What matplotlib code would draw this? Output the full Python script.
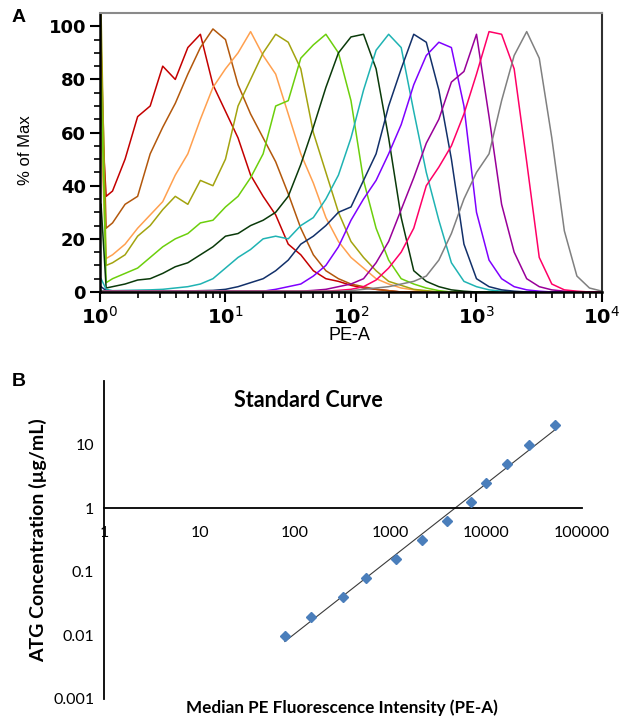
import numpy as np
import matplotlib
matplotlib.use("Agg")
import matplotlib.pyplot as plt
from matplotlib.ticker import FixedLocator, NullFormatter, NullLocator

plt.rcParams['mathtext.fontset'] = 'dejavusans'

# ---- panel A: PE-A histograms (% of max) ----
# bins: spike bin, first bin, then 0.1-decade steps from 10^0.1 to 10^4
pe_bins = np.concatenate([[1.02, 1.12], np.logspace(0.1, 4, 40)])

red = [70, 36, 38, 50, 66, 70, 85, 80, 92, 97, 78, 68, 58, 44, 36, 29, 18, 14, 8, 5, 4, 2.5, 1.5, 1, 0.5,
       0, 0, 0, 0, 0, 0, 0, 0, 0, 0, 0, 0, 0, 0, 0, 0, 0]
brown = [93, 24, 26, 33, 36, 52, 62, 71, 82, 92, 99, 95, 78, 67, 58, 49, 37, 24, 14, 8, 5, 3, 2, 1, 0.5,
         0, 0, 0, 0, 0, 0, 0, 0, 0, 0, 0, 0, 0, 0, 0, 0, 0]
orange = [60, 12.6, 14, 18, 24, 29, 34, 44, 52, 65, 77, 84, 90, 98, 89, 82, 67, 52, 41, 28, 19, 13, 9, 5, 3,
          1.5, 0.8, 0.3, 0, 0, 0, 0, 0, 0, 0, 0, 0, 0, 0, 0, 0, 0]
olive = [105, 10, 11, 14, 21, 25, 31, 36, 33, 42, 40, 50, 70, 80, 90, 97, 94, 84, 60, 45, 30, 19, 13, 8, 4,
         2.5, 1, 0.5, 0, 0, 0, 0, 0, 0, 0, 0, 0, 0, 0, 0, 0, 0]
lgreen = [80, 3.5, 5, 7, 9, 13, 17, 20, 22, 26, 27, 32, 36, 43, 52, 70, 72, 88, 93, 97, 90, 72, 42, 24, 12,
          5, 3, 1.5, 0.5, 0, 0, 0, 0, 0, 0, 0, 0, 0, 0, 0, 0, 0]
dgreen = [33, 1.5, 2, 3, 4.5, 5, 7, 9.5, 11, 14, 17, 21, 22, 25, 27, 30, 36, 48, 62, 77, 90, 96, 97, 84, 58,
          28, 8, 4, 2, 0.8, 0.3, 0, 0, 0, 0, 0, 0, 0, 0, 0, 0, 0]
teal = [5, 1, 0.5, 0.6, 0.7, 0.8, 1, 1.5, 2, 3, 5, 9, 13, 16, 20, 21, 20, 25, 28, 35, 44, 58, 76, 91, 97,
        92, 68, 45, 27, 11, 4, 2, 0.8, 0.3, 0, 0, 0, 0, 0, 0, 0, 0]
navy = [2, 0.5, 0.3, 0.3, 0.3, 0.3, 0.3, 0.3, 0.4, 0.5, 0.6, 1, 2, 3.5, 5, 8, 12, 18, 21, 25, 30, 32, 42, 52, 70,
        84, 97, 94, 76, 50, 18, 5, 2, 0.8, 0.3, 0, 0, 0, 0, 0, 0, 0]
violet = [0.5, 0.3, 0.3, 0.3, 0.3, 0.3, 0.3, 0.3, 0.3, 0.3, 0.3, 0.3, 0.3, 0.3, 0.3, 1, 2, 3, 6, 10, 17, 27, 35, 42, 52,
          63, 78, 89, 94, 92, 70, 30, 12, 5, 2, 0.8, 0.3, 0, 0, 0, 0, 0]
purple = [0.5, 0.3, 0.3, 0.3, 0.3, 0.3, 0.3, 0.3, 0.3, 0.3, 0.3, 0.3, 0.3, 0.3, 0.3, 0.3, 0.3, 0.3, 0.6, 1, 2, 3, 5, 11, 19,
          31, 43, 56, 65, 79, 83, 97, 66, 33, 15, 5, 2, 0.8, 0.3, 0, 0, 0]
pink = [0.5, 0.3, 0.3, 0.3, 0.3, 0.3, 0.3, 0.3, 0.3, 0.3, 0.3, 0.3, 0.3, 0.3, 0.3, 0.3, 0.3, 0.3, 0.3, 0.3, 0.6, 1, 2, 4.5, 9,
        15, 24, 40, 47, 55, 67, 82, 98, 97, 84, 49, 13, 3, 0.8, 0.3, 0, 0]
gray = [0.5, 0.3, 0.3, 0.3, 0.3, 0.3, 0.3, 0.3, 0.3, 0.3, 0.3, 0.3, 0.3, 0.3, 0.3, 0.3, 0.3, 0.3, 0.3, 0.3, 0.3, 0.5, 1, 1.5, 2,
        3, 4, 6, 12, 22, 35, 45, 52, 72, 89, 98, 88, 58, 23, 6, 1.5, 0.3]

hists = [red, brown, orange, olive, lgreen, dgreen, teal, navy, violet, purple, pink, gray]
hist_colors = ['#c40000', '#b3580c', '#ffa04f', '#a3a30f', '#6ccf0c', '#0a3a0a',
               '#1fb3b3', '#12306a', '#7f00ff', '#990099', '#ff0066', '#808080']

# ---- panel B: standard curve ----
median_pe = [78, 146, 314, 546, 1125, 2120, 3870, 6950, 9980, 16300, 28100, 52200]
atg_conc = [0.0098, 0.0195, 0.039, 0.078, 0.156, 0.3125, 0.625, 1.25, 2.5, 5, 10, 20]
x_tick_vals = [1, 10, 100, 1000, 10000, 100000]
x_tick_labels = ['1', '10', '100', '1000', '10000', '100000']
y_tick_vals = [0.001, 0.01, 0.1, 1, 10]
y_tick_labels = ['0.001', '0.01', '0.1', '1', '10']

fig = plt.figure(figsize=(6.28, 7.19), dpi=100)

# panel A
axA = fig.add_axes([0.1592, 0.5939, 0.7994, 0.388])
for vals, c in zip(hists, hist_colors):
    axA.plot(pe_bins, vals, color=c, lw=1.1, clip_on=True)
axA.set_xscale('log')
axA.set_xlim(1, 10000)
axA.set_ylim(0, 105)
axA.set_yticks([0, 20, 40, 60, 80, 100])
axA.yaxis.set_minor_locator(FixedLocator(np.arange(0, 101, 5)))
axA.set_xticks([1, 10, 100, 1000, 10000])
axA.set_xticklabels([r'$\mathbf{10}^{0}$', r'$\mathbf{10}^{1}$', r'$\mathbf{10}^{2}$',
                     r'$\mathbf{10}^{3}$', r'$\mathbf{10}^{4}$'])
axA.xaxis.set_minor_formatter(NullFormatter())
axA.tick_params(axis='both', which='major', direction='out', length=7, width=1.5, color='black')
axA.tick_params(axis='both', which='minor', direction='out', length=4, width=1.2, color='black')
axA.tick_params(axis='y', labelsize=13, pad=3)
axA.tick_params(axis='x', labelsize=14, pad=3)
for lab in axA.get_yticklabels():
    lab.set_fontfamily('DejaVu Sans')
    lab.set_fontweight('bold')
axA.tick_params(top=False, right=False)
axA.spines['left'].set_linewidth(1.8)
axA.spines['bottom'].set_linewidth(1.8)
axA.spines['top'].set_color('#8a8a8a')
axA.spines['top'].set_linewidth(1.5)
axA.spines['right'].set_color('#303030')
axA.spines['right'].set_linewidth(1.5)
fig.text(0.040, 0.791, '% of Max', family=['Liberation Sans Narrow', 'Liberation Sans'], fontsize=12,
         rotation=90, ha='center', va='center')
fig.text(0.557, 0.533, 'PE-A', family='Liberation Sans', fontsize=13, ha='center', va='center')
fig.text(0.019, 0.975, 'A', family='Liberation Sans', fontweight='bold', fontsize=14, va='center')

# panel B
axB = fig.add_axes([0.1656, 0.0285, 0.7611, 0.4416])
axB.plot(median_pe, atg_conc, linestyle='none', marker='D', markersize=5.5,
         color='#4a7ebb', zorder=3)
slope, icept = np.polyfit(np.log10(median_pe), np.log10(atg_conc), 1)
fit_x = np.array([min(median_pe), max(median_pe)])
axB.plot(fit_x, 10 ** (icept + slope * np.log10(fit_x)), color='#3a3a3a', lw=0.8, zorder=2)
axB.set_xscale('log')
axB.set_yscale('log')
axB.set_xlim(1, 100000)
axB.set_ylim(0.001, 100)
axB.spines['top'].set_visible(False)
axB.spines['right'].set_visible(False)
axB.spines['bottom'].set_position(('data', 1))
axB.spines['left'].set_linewidth(1.3)
axB.spines['bottom'].set_linewidth(1.3)
axB.set_xticks(x_tick_vals)
axB.set_xticklabels(x_tick_labels)
axB.set_yticks(y_tick_vals)
axB.set_yticklabels(y_tick_labels)
axB.xaxis.set_minor_locator(NullLocator())
axB.yaxis.set_minor_locator(NullLocator())
axB.tick_params(axis='both', length=0, labelsize=11.5)
axB.tick_params(axis='x', pad=13)
axB.tick_params(axis='y', pad=7)
for lab in axB.get_xticklabels() + axB.get_yticklabels():
    lab.set_fontfamily('Lato')
fig.text(0.491, 0.443, 'Standard Curve', family='Lato', fontweight='bold', fontsize=15.5, ha='center', va='center')
fig.text(0.545, 0.016, 'Median PE Fluorescence Intensity (PE-A)', family='Lato', fontweight='bold',
         fontsize=12.3, ha='center', va='center')
fig.text(0.0605, 0.249, 'ATG Concentration (\u00b5g/mL)', family='Lato', fontweight='bold', fontsize=14,
         ha='center', va='center', rotation=90)
fig.text(0.019, 0.469, 'B', family='Liberation Sans', fontweight='bold', fontsize=14, va='center')

fig.savefig('out.png', dpi=100)
